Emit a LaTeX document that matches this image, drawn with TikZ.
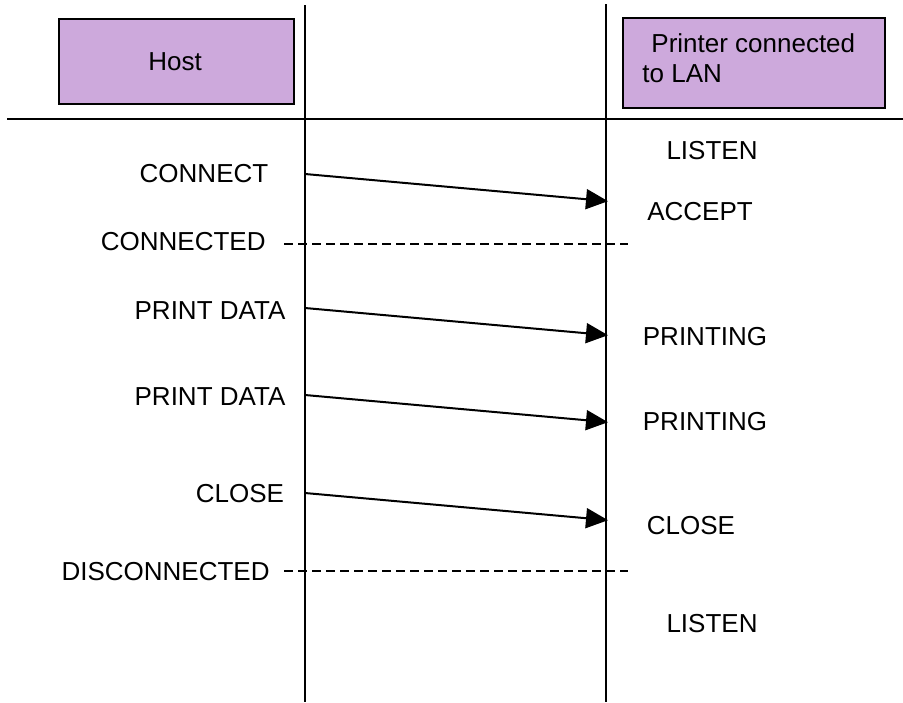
\documentclass[tikz,border=0pt]{standalone}
\usepackage{fontspec}
\setmainfont{Liberation Sans}
\usetikzlibrary{arrows.meta}
\definecolor{boxfill}{HTML}{CDA9DC}
\tikzset{
  lbl/.style={inner sep=0pt, font=\fontsize{13}{15.6}\selectfont},
  headbox/.style={draw=black, line width=0.8pt, fill=boxfill},
  life/.style={line width=1pt},
  msg/.style={line width=1pt, -{Triangle[length=11pt,width=10pt]}, shorten >=-1pt},
  sync/.style={line width=1pt, dash pattern=on 4.5pt off 2.5pt},
}
\begin{document}
\begin{tikzpicture}[x=0.5pt,y=-0.5pt]
\useasboundingbox (0,0) rectangle (903,702);
% header boxes
\node[headbox, minimum width=117.5pt, minimum height=42.5pt, anchor=north west] (host) at (58,18) {};
\node[lbl] (hostt) at (175,62) {Host};
\node[headbox, minimum width=131pt, minimum height=45pt, anchor=north west] (prn) at (622,17) {};
\node[lbl, anchor=west] (prnt1) at (651,43) {Printer connected};
\node[lbl, anchor=west] (prnt2) at (642,74) {to LAN};
% lifelines and separator
\coordinate (htop) at (305,5);
\coordinate (hbot) at (305,702);
\coordinate (ptop) at (606,4);
\coordinate (pbot) at (606,702);
\coordinate (sepl) at (7,119);
\coordinate (sepr) at (903,119);
\draw[life] (htop) -- (hbot);
\draw[life] (ptop) -- (pbot);
\draw[life] (sepl) -- (sepr);
% host labels
\node[lbl] (connect) at (204,174) {CONNECT};
\node[lbl, anchor=east] (connected) at (266,242) {CONNECTED};
\node[lbl] (pd1) at (210,311) {PRINT DATA};
\node[lbl] (pd2) at (210,397) {PRINT DATA};
\node[lbl] (hclose) at (240,494) {CLOSE};
\node[lbl, anchor=east] (disc) at (270,572) {DISCONNECTED};
% printer labels
\node[lbl] (listen1) at (712,151) {LISTEN};
\node[lbl] (accept) at (700,212) {ACCEPT};
\node[lbl] (prt1) at (705,337) {PRINTING};
\node[lbl] (prt2) at (705,422) {PRINTING};
\node[lbl] (pclose) at (691,526) {CLOSE};
\node[lbl] (listen2) at (712,624) {LISTEN};
% message endpoints
\coordinate (a1s) at (305,174); \coordinate (a1e) at (606,201);
\coordinate (a2s) at (305,308); \coordinate (a2e) at (606,335);
\coordinate (a3s) at (305,395); \coordinate (a3e) at (606,422);
\coordinate (a4s) at (305,493); \coordinate (a4e) at (606,520);
\draw[msg] (a1s) -- (a1e);
\draw[msg] (a2s) -- (a2e);
\draw[msg] (a3s) -- (a3e);
\draw[msg] (a4s) -- (a4e);
% dashed sync lines
\coordinate (d1s) at (284,244); \coordinate (d1e) at (628,244);
\coordinate (d2s) at (284,571); \coordinate (d2e) at (628,571);
\draw[sync] (d1s) -- (d1e);
\draw[sync] (d2s) -- (d2e);
\end{tikzpicture}
\end{document}
